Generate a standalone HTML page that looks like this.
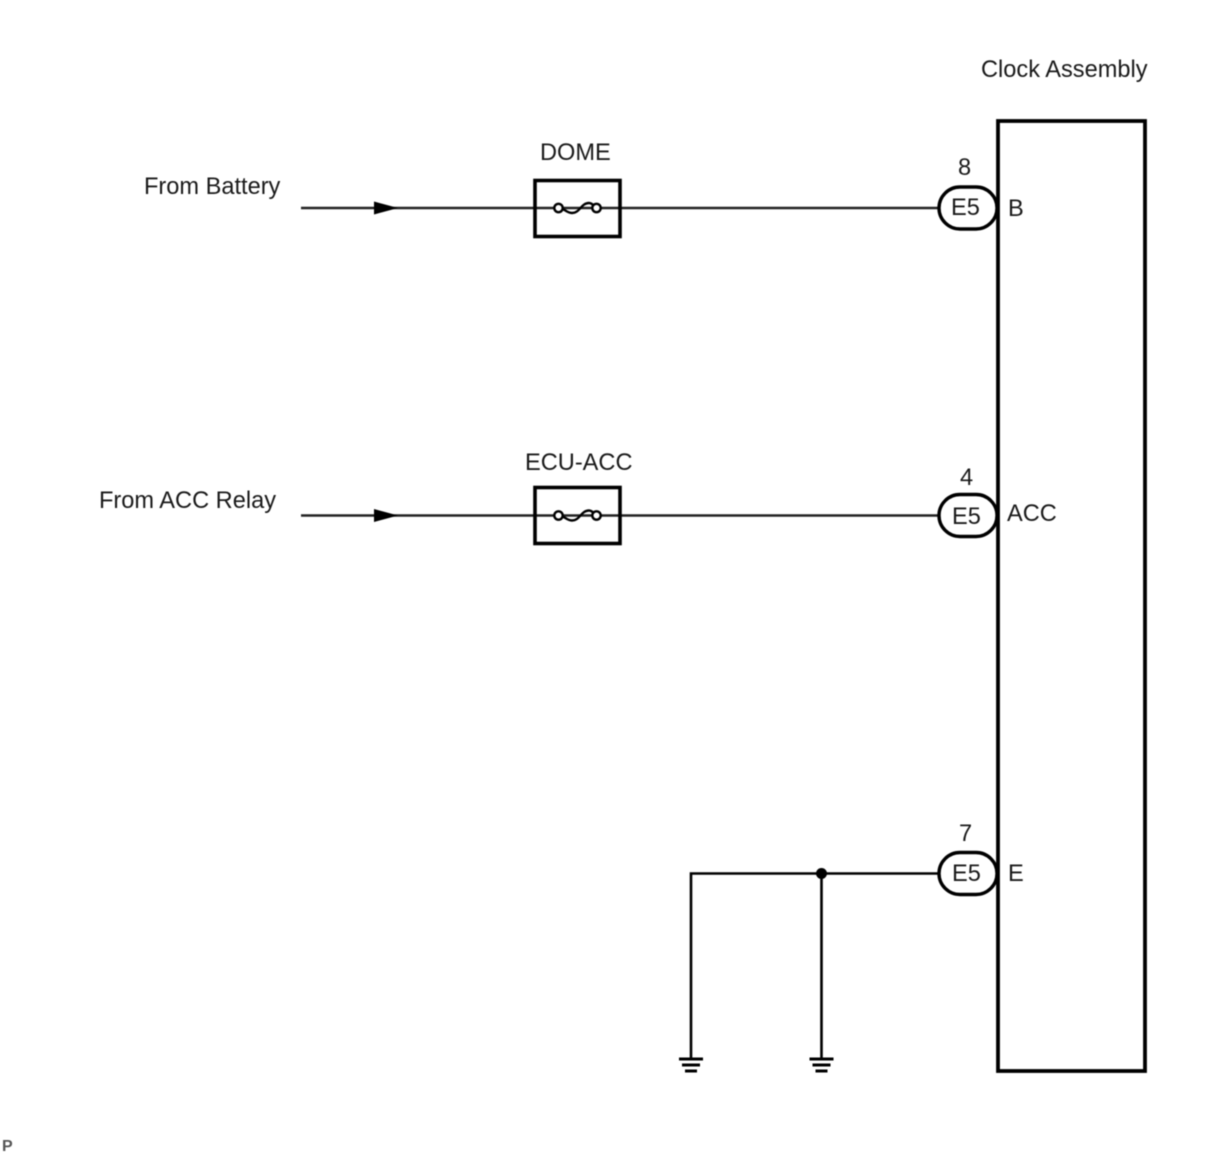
<!DOCTYPE html>
<html>
<head>
<meta charset="utf-8">
<style>
html,body{margin:0;padding:0;background:#fff;width:1210px;height:1156px;overflow:hidden}
svg{display:block;filter:blur(0.4px)}
text{font-family:"Liberation Sans",sans-serif;font-size:23.6px;fill:#1a1a1a}
</style>
</head>
<body>
<svg width="1210" height="1156" viewBox="0 0 1210 1156">
<rect width="1210" height="1156" fill="#fff"/>
<g fill="none" stroke="#000" stroke-linecap="butt">
  <!-- Clock assembly box -->
  <rect x="998" y="121" width="147" height="950" stroke-width="3.8"/>
  <!-- wires -->
  <path d="M301 208H938M301 515.500H938" stroke-width="2.600" stroke="#222"/>
  <path d="M691 1058V873.500H938M821.500 873.500V1058" stroke-width="2.600"/>
  <!-- fuses -->
  <rect x="535" y="180.500" width="85" height="56" stroke-width="3.600"/>
  <rect x="535" y="487.500" width="85" height="56" stroke-width="3.600"/>
  <!-- connectors -->
  <rect x="939" y="187" width="58" height="42" rx="21" ry="21" stroke-width="3.400" fill="#fff"/>
  <rect x="939" y="494.500" width="58" height="42" rx="21" ry="21" stroke-width="3.400" fill="#fff"/>
  <rect x="939" y="852.500" width="58" height="42" rx="21" ry="21" stroke-width="3.400" fill="#fff"/>
  <!-- grounds -->
  <path d="M679 1059H703M682 1065H700M685 1071H697" stroke-width="3"/>
  <path d="M809.500 1059H833.500M812.500 1065H830.500M815.500 1071H827.500" stroke-width="3"/>
</g>
<!-- fuse symbols -->
<g fill="#fff" stroke="#000" stroke-width="2.400">
  <path d="M558 208C565 208 566 213 572 213C580 213 581 203 589 203C592 203 594 206 597 208" fill="none"/>
  <circle cx="558.500" cy="208" r="4.200"/>
  <circle cx="596.500" cy="208" r="4.200"/>
  <path d="M558 515.500C565 515.500 566 520.500 572 520.500C580 520.500 581 510.500 589 510.500C592 510.500 594 513.500 597 515.500" fill="none"/>
  <circle cx="558.500" cy="515.500" r="4.200"/>
  <circle cx="596.500" cy="515.500" r="4.200"/>
</g>
<!-- arrowheads -->
<path d="M374 201.500L398 208L374 214.500Z" fill="#000"/>
<path d="M374 509L398 515.500L374 522Z" fill="#000"/>
<!-- junction -->
<circle cx="821.500" cy="873.500" r="5.500" fill="#000"/>
<!-- labels -->
<text x="981" y="77">Clock Assembly</text>
<text x="540" y="160">DOME</text>
<text x="144" y="194">From Battery</text>
<text x="525" y="470">ECU-ACC</text>
<text x="99" y="508">From ACC Relay</text>
<text x="958" y="175">8</text>
<text x="960" y="485">4</text>
<text x="959" y="841">7</text>
<text x="951" y="215">E5</text>
<text x="952" y="524">E5</text>
<text x="952" y="881">E5</text>
<text x="1008" y="216">B</text>
<text x="1007" y="521">ACC</text>
<text x="1008" y="881">E</text>
<text x="2" y="1151" style="font-size:16px;font-weight:bold;fill:#555">P</text>
</svg>
</body>
</html>
